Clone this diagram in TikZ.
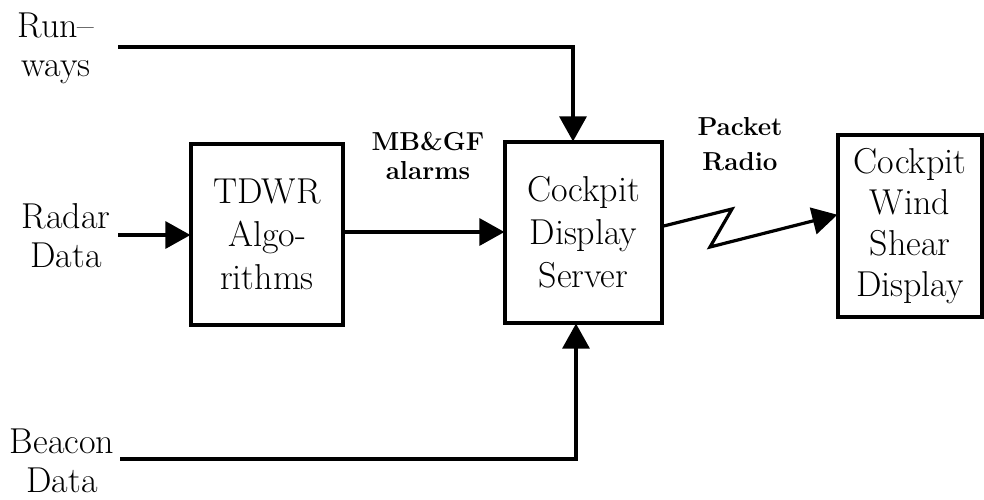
\documentclass[tikz,border=0pt]{standalone}
\usetikzlibrary{arrows.meta}
\tikzset{
  blk/.style={draw, line width=3.2pt, inner sep=0pt, align=center,
    font=\fontsize{36}{43}\selectfont},
  lbl/.style={align=center, inner sep=0pt, font=\fontsize{36}{39}\selectfont},
  small/.style={align=center, inner sep=0pt, font=\bfseries\fontsize{26}{29}\selectfont},
  conn/.style={line width=3.2pt},
  arr/.style={conn, -{Triangle[length=25pt,width=27pt]}, shorten >=-1pt},
}
\begin{document}
\begin{tikzpicture}[x=1pt,y=-1pt]
\useasboundingbox (0,0) rectangle (984,499);
% boxes
\node[blk, minimum width=152pt, minimum height=181pt] (tdwr) at (267,234.5) {TDWR\\Algo-\\rithms};
\node[blk, minimum width=157pt, minimum height=181pt] (cds) at (583.5,232.5) {Cockpit\\Display\\Server};
\node[blk, minimum width=144pt, minimum height=182pt, font=\fontsize{36}{41}\selectfont] (cwsd) at (910,226) {Cockpit\\Wind\\Shear\\Display};
% outside labels (anchor=base is the baseline of the last line)
\node[lbl, anchor=base] (run) at (56,76) {Run--\\ways};
\node[lbl, anchor=base] (radar) at (66,267) {Radar\\Data};
\node[lbl, anchor=base] (beacon) at (62,492) {Beacon\\Data};
\node[small, anchor=base] (mbgf) at (428,179) {MB\&GF\\alarms};
\node[small, anchor=base, font=\bfseries\fontsize{26}{35}\selectfont] (packet) at (740,170) {Packet\\Radio};
% connector ends
\coordinate (rwstart) at (118,47);
\coordinate (rwdown) at ([xshift=-10.5pt]cds.north);
\coordinate (rdstart) at (118,235);
\coordinate (bcstart) at (120,459);
\coordinate (bcup) at ([xshift=-7.5pt]cds.south);
\coordinate (mbstart) at (tdwr.east |- 0,232);
\coordinate (z1) at (732,209);
\coordinate (z2) at (710,247);
\coordinate (zs) at (cds.east |- 0,226);
\coordinate (ze) at (cwsd.west |- 0,215);
% connectors
\draw[arr] (rwstart) -| (rwdown);
\draw[arr] (rdstart) -- (tdwr.west |- rdstart);
\draw[arr] (mbstart) -- (cds.west |- mbstart);
\draw[arr] (bcstart) -| (bcup);
\draw[arr, line join=miter] (zs) -- (z1) -- (z2) -- (ze);
\end{tikzpicture}
\end{document}
